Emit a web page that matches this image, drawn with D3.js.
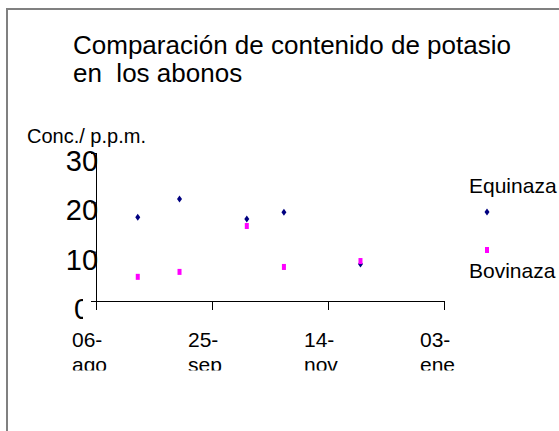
<!DOCTYPE html>
<html>
<head>
<meta charset="utf-8">
<script src="https://cdn.jsdelivr.net/npm/d3@7"></script>
<style>
  html, body { margin: 0; padding: 0; background: #fff; }
  svg { display: block; }
  text { font-family: "Liberation Sans", Arial, sans-serif; fill: #000; }
</style>
</head>
<body>
<svg id="chart" width="559" height="431"></svg>
<script>
// ---- data ----
const titleLines = ["Comparación de contenido de potasio", "en  los abonos"];
const yAxisTitle = "Conc./ p.p.m.";
const sampleDates = ["2007-08-24", "2007-09-11", "2007-10-10", "2007-10-26", "2007-11-28"];
const equinaza = [17.0, 20.7, 16.6, 18.0, 7.5];
const bovinaza = [4.9, 5.9, 15.2, 6.9, 8.1];
const seriesNames = ["Equinaza", "Bovinaza"];
const xTickDates = ["2007-08-06", "2007-09-25", "2007-11-14", "2008-01-03"];
const xTickLabels = [["06-", "ago"], ["25-", "sep"], ["14-", "nov"], ["03-", "ene"]];
const yTicks = [0, 10, 20, 30];

const parse = d3.timeParse("%Y-%m-%d");
const svg = d3.select("#chart");

// outer frame
svg.append("rect").attr("x", 7).attr("y", 9).attr("width", 600).attr("height", 500)
  .attr("fill", "none").attr("stroke", "#808080").attr("stroke-width", 2);

// title
const title = svg.append("text").attr("font-size", 26);
titleLines.forEach((t, i) => {
  title.append("tspan").attr("x", 73).attr("y", 54 + i * 28).attr("xml:space", "preserve").text(t);
});

// y axis title
svg.append("text").attr("x", 27).attr("y", 143).attr("font-size", 20).text(yAxisTitle);

// scales
const x = d3.scaleTime().domain([parse(xTickDates[0]), parse(xTickDates[3])]).range([96, 444]);
const y = d3.scaleLinear().domain([0, 30]).range([301, 153]);

// clip for label area
const defs = svg.append("defs");
const cpY = defs.append("clipPath").attr("id", "clipY");
cpY.append("rect").attr("x", 0).attr("y", 0).attr("width", 120).attr("height", 292);
cpY.append("rect").attr("x", 0).attr("y", 292).attr("width", 83).attr("height", 60);
const cpX = defs.append("clipPath").attr("id", "clipX");
cpX.append("rect").attr("x", 0).attr("y", 0).attr("width", 559).attr("height", 370.5);

// y axis
const yAxis = svg.append("g").attr("transform", "translate(96,0)")
  .call(d3.axisLeft(y).tickValues(yTicks).tickSize(5).tickSizeOuter(0).tickFormat(""));
yAxis.select(".domain").attr("stroke", "#000").attr("d", "M0.5,153V310");
yAxis.selectAll(".tick line").attr("stroke", "#000");

const yLab = svg.append("g").attr("clip-path", "url(#clipY)");
yLab.selectAll("text").data(yTicks).join("text")
  .attr("x", 82).attr("y", d => y(d) + 18)
  .attr("text-anchor", "middle").attr("font-size", 29).text(d => d);

// x axis
const xAxis = svg.append("g").attr("transform", "translate(0,301)")
  .call(d3.axisBottom(x).tickValues(xTickDates.map(parse)).tickSize(9).tickSizeOuter(0).tickFormat(""));
xAxis.select(".domain").attr("stroke", "#000");
xAxis.selectAll(".tick line").attr("stroke", "#000");

const xLab = svg.append("g").attr("clip-path", "url(#clipX)");
xTickDates.forEach((d, i) => {
  const t = xLab.append("text").attr("font-size", 21);
  xTickLabels[i].forEach((s, j) => {
    t.append("tspan").attr("x", x(parse(d)) - 24).attr("y", 347 + j * 25).text(s);
  });
});

// markers
const diamond = "M0,-3.5L2.5,0L0,3.5L-2.5,0Z";
const eqData = sampleDates.map((d, i) => ({ d: parse(d), v: equinaza[i] }));
const boData = sampleDates.map((d, i) => ({ d: parse(d), v: bovinaza[i] }));

svg.append("g").selectAll("path").data(eqData).join("path")
  .attr("d", diamond).attr("fill", "#000080")
  .attr("transform", p => `translate(${x(p.d)},${y(p.v)})`);

svg.append("g").selectAll("rect").data(boData).join("rect")
  .attr("x", p => x(p.d) - 2).attr("y", p => y(p.v) - 3)
  .attr("width", 4).attr("height", 6).attr("fill", "#FF00FF");

// legend
svg.append("text").attr("x", 469).attr("y", 193).attr("font-size", 21).text(seriesNames[0]);
svg.append("path").attr("d", diamond).attr("fill", "#000080").attr("transform", "translate(487,212)");
svg.append("rect").attr("x", 485).attr("y", 247).attr("width", 4).attr("height", 6).attr("fill", "#FF00FF");
svg.append("text").attr("x", 469).attr("y", 278).attr("font-size", 21).text(seriesNames[1]);
</script>
</body>
</html>
